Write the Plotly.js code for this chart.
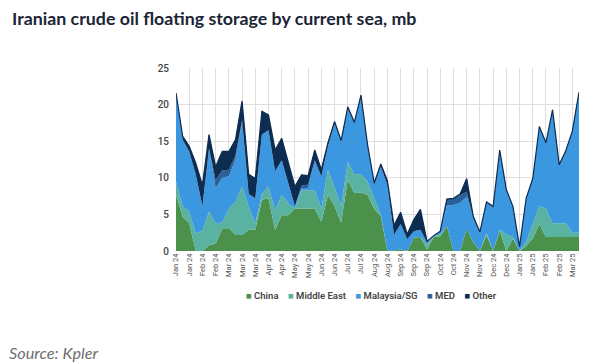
<!DOCTYPE html>
<html>
<head>
<meta charset="utf-8">
<script src="https://cdn.plot.ly/plotly-3.0.1.min.js"></script>
<style>html,body{margin:0;padding:0;background:#fff;}#chart{width:589px;height:363px;}</style>
</head>
<body>
<div id="chart"></div>
<script>
// Weekly observations
const weeks = [
  "2024-01-07","2024-01-14","2024-01-21","2024-01-28","2024-02-04","2024-02-11","2024-02-18","2024-02-25",
  "2024-03-03","2024-03-10","2024-03-17","2024-03-24","2024-03-31","2024-04-07","2024-04-14","2024-04-21",
  "2024-04-28","2024-05-05","2024-05-12","2024-05-19","2024-05-26","2024-06-02","2024-06-09","2024-06-16",
  "2024-06-23","2024-06-30","2024-07-07","2024-07-14","2024-07-21","2024-07-28","2024-08-04","2024-08-11",
  "2024-08-18","2024-08-25","2024-09-01","2024-09-08","2024-09-15","2024-09-22","2024-09-29","2024-10-06",
  "2024-10-13","2024-10-20","2024-10-27","2024-11-03","2024-11-10","2024-11-17","2024-11-24","2024-12-01",
  "2024-12-08","2024-12-15","2024-12-22","2024-12-29","2025-01-05","2025-01-12","2025-01-19","2025-01-26",
  "2025-02-02","2025-02-09","2025-02-16","2025-02-23","2025-03-02","2025-03-09"
];

const china = [7.7,4.7,3.8,0,0,0.8,1.0,3.1,3.1,2.2,2.2,2.9,2.9,7.0,7.2,2.9,4.9,4.9,5.8,5.8,5.8,5.8,4.0,7.7,
  6.1,3.9,9.7,7.9,8.0,7.7,5.7,4.8,0,0.1,0.2,0,1.8,1.9,0.2,1.9,2.0,3.4,0,0,3.0,1.2,0,2.2,0,2.8,0,1.7,0,0.7,
  1.7,3.7,1.9,1.9,1.9,1.9,1.9,1.9];

const middleEast = [1.8,1.4,1.6,2.4,2.8,4.6,2.8,0.8,2.7,4.5,6.6,3.1,0.9,0.8,1.6,2.6,2.8,1.6,0,2.5,2.5,2.5,1.8,3.4,
  2.6,2.2,2.5,2.6,2.5,1.8,1.5,0.2,0,0,0,0,0,0,0.8,0.1,0.3,0,0,0,0,0,0,0.3,0,0.1,2.3,0.2,0,0.6,
  2.0,2.4,3.9,1.9,1.9,1.9,0.6,0.6];

const malaysiaSG = [11.8,9.1,8.2,8.0,3.3,8.6,4.8,6.1,4.4,5.8,8.8,1.8,3.4,8.1,7.7,5.4,4.7,2.8,0.3,0.3,0.3,4.1,4.4,3.2,
  8.7,8.8,7.3,6.9,10.6,4.9,1.8,6.5,9.0,2.1,3.5,1.6,0.9,1.0,0.2,0.1,0.4,2.8,6.3,6.6,4.4,3.3,2.5,4.1,6.0,10.8,6.0,4.1,0.5,5.8,
  6.1,10.8,8.9,15.4,7.9,9.8,13.8,19.1];

const med = [0,0,0,0,0,0,1.1,1.0,0.9,0.5,0.3,0,0,0,0,0,0,0,0,0.3,0.5,0,0,0,
  0,0,0,0,0,0,0,0,0,0,0,0,0,0,0,0,0,0.9,0.9,1.0,0.7,0,0,0,0,0,0,0,0,0,
  0,0,0,0,0,0,0,0];

const other = [0.3,0.5,0.7,1.6,2.9,1.9,1.8,2.6,2.5,2.2,2.6,2.7,2.7,3.2,2.1,2.9,3.0,2.7,2.7,1.5,1.2,1.4,0.9,0.5,
  0.3,0.2,0.2,0.2,0.2,0.1,0.3,0.4,0.6,1.3,1.6,0.7,1.6,2.8,0.1,0,0,0,0,0.2,1.8,0.2,0.1,0.1,0.1,0.1,0.1,0.1,0.1,0.1,
  0.1,0.1,0.1,0.1,0.1,0.1,0.1,0.1];

const seriesNames = ["China","Middle East","Malaysia/SG","MED","Other"];
const seriesValues = [china, middleEast, malaysiaSG, med, other];
const seriesColors = ["#4c914b","#5ab2a0","#3a97e0","#2a6099","#0d2c52"];

const traces = seriesValues.map((vals, k) => {
  const isTop = k === seriesValues.length - 1;
  return {
    type: "scatter", mode: "lines", x: weeks, y: vals, name: seriesNames[k],
    stackgroup: "one", fillcolor: seriesColors[k],
    line: {color: isTop ? "#0d2c52" : seriesColors[k], width: isTop ? 1.2 : 0, shape: "linear"},
    showlegend: false, hoverinfo: "skip"
  };
});

// compact legend, built from the series names and colours
const NB = "\u00a0";
const legendText = seriesNames.map((n, k) =>
  '<span style="color:' + seriesColors[k] + '">\u25A0</span>' + NB + n
).join(NB + NB + NB + NB);

const layout = {
  width: 589, height: 363,
  paper_bgcolor: "#fff", plot_bgcolor: "#fff",
  margin: {l: 176, r: 10, t: 68, b: 112},
  showlegend: false,
  title: {
    text: "<b>Iranian crude oil floating storage by current sea, mb</b>",
    font: {family: "Lato, sans-serif", size: 17.8, color: "#1b2436"},
    x: 12/589, xanchor: "left", xref: "container",
    y: 1 - 19/363, yanchor: "middle", yref: "container"
  },
  xaxis: {
    type: "date", range: ["2024-01-07", "2025-03-09"],
    tickmode: "linear", tick0: "2024-01-07", dtick: 14*86400000,
    tickformat: "%b %y", tickangle: -90,
    tickfont: {family: "Roboto, sans-serif", size: 7.5, color: "#555"},
    showgrid: true, gridcolor: "#dedede", gridwidth: 1,
    showline: false, zeroline: false, ticks: ""
  },
  yaxis: {
    range: [0, 25], tickmode: "linear", tick0: 0, dtick: 5,
    tickfont: {family: "Roboto, sans-serif", size: 10, color: "#444", weight: 500},
    showgrid: true, gridcolor: "#dedede", gridwidth: 1,
    zeroline: false, showline: false, ticks: "", ticklabelstandoff: 6
  },
  annotations: [
    {
      text: legendText, xref: "paper", yref: "paper",
      x: (371.5 - 176)/403, y: (251 - 295)/183, xanchor: "center", yanchor: "middle",
      showarrow: false, font: {family: "Roboto, sans-serif", size: 9.5, color: "#444", weight: 600}
    },
    {
      text: "<i>Source: Kpler</i>", xref: "paper", yref: "paper",
      x: (7 - 176)/403, y: (251 - 352)/183, xanchor: "left", yanchor: "middle",
      showarrow: false, font: {family: "Lato, sans-serif", size: 16.3, color: "#6e6e6e"}
    }
  ]
};

Plotly.newPlot("chart", traces, layout, {displayModeBar: false, staticPlot: true});
</script>
</body>
</html>
